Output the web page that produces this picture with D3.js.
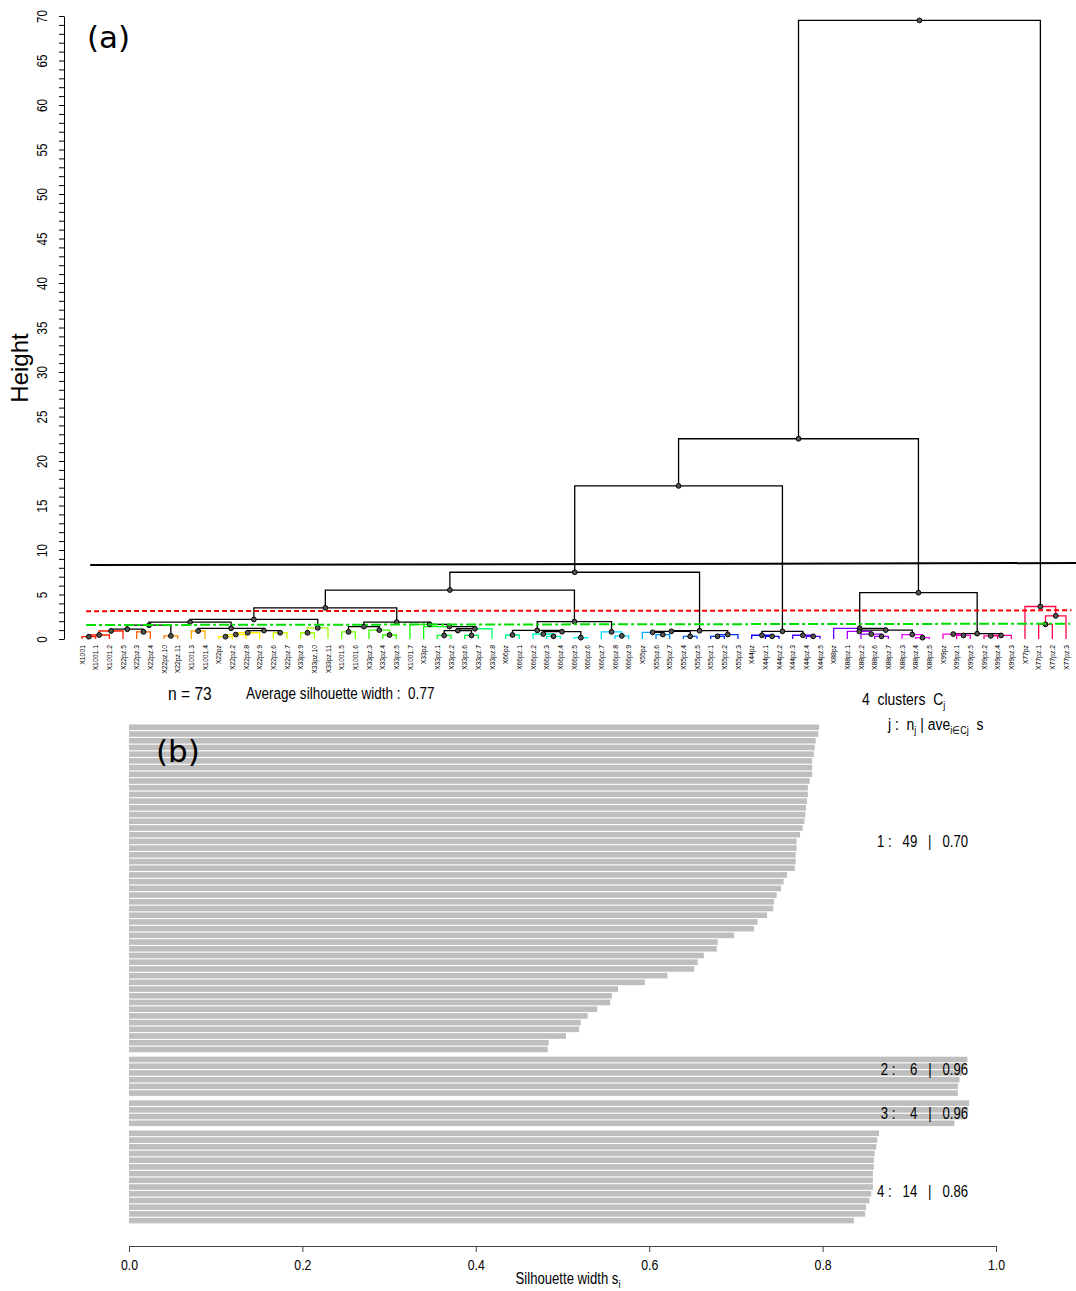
<html>
<script src='https://d3js.org/d3.v7.min.js'></script>
<style>
body {margin:0; background:#fff;}
text {font-family: 'Liberation Sans', Arial, sans-serif; fill:#000;}
.pl {font-family: 'DejaVu Sans', sans-serif;}
</style>
<body onload='init()'>
<svg width=1076 height=1291></svg>
<script>
// leaf labels in dendrogram order
const leafLabels = ["X1001","X1001.1","X1001.2","X22pz.5","X22pz.3","X22pz.4","X22pz.10","X22pz.11","X1001.3","X1001.4",
  "X22pz","X22pz.2","X22pz.8","X22pz.9","X22pz.6","X22pz.7","X33pz.9","X33pz.10","X33pz.11","X1001.5",
  "X1001.6","X33pz.3","X33pz.4","X33pz.5","X1001.7","X33pz","X33pz.1","X33pz.2","X33pz.6","X33pz.7",
  "X33pz.8","X66pz","X66pz.1","X66pz.2","X66pz.3","X66pz.4","X66pz.5","X66pz.6","X66pz.7","X66pz.8",
  "X66pz.9","X55pz","X55pz.6","X55pz.7","X55pz.4","X55pz.5","X55pz.1","X55pz.2","X55pz.3","X44pz",
  "X44pz.1","X44pz.2","X44pz.3","X44pz.4","X44pz.5","X88pz","X88pz.1","X88pz.2","X88pz.6","X88pz.7",
  "X88pz.3","X88pz.4","X88pz.5","X99pz","X99pz.1","X99pz.5","X99pz.2","X99pz.4","X99pz.3","X77pz",
  "X77pz.1","X77pz.2","X77pz.3"];

// merge tree: [height, left, right], numbers are leaf indices
const treeLeft = [2.2,
  [1.9,
    [1.55, [1.1, [0.9, [0.45, [0.26, 0, 1], 2], 3], [0.8, 4, 5]], [0.35, 6, 7]],
    [1.2, [0.9, 8, 9], [0.95, [0.7, [0.5, [0.26, 10, 11], 12], 13], [0.7, 14, 15]]]],
  [1.25, [0.7, 16, 17], 18]];
const treeMid = [1.9,
  [1.4, [0.8, 19, 20], [1.0, 21, [0.45, 22, 23]]],
  [1.65, 24, [1.4, 25, [1.15, [0.95, [0.4, 26, 27], [0.4, 28, 29]], 30]]]];
const tree66 = [1.95,
  [0.97, [0.45, 31, 32], [0.82, [0.56, 33, [0.3, 34, 35]], [0.15, 36, 37]]],
  [0.8, 38, [0.35, 39, 40]]];
const tree55 = [0.93, [0.86, [0.75, 41, [0.5, 42, 43]], [0.3, 44, 45]], [0.5, [0.3, 46, 47], 48]];
const tree44 = [0.86, [0.42, 49, [0.3, 50, 51]], [0.42, 52, [0.3, 53, 54]]];
const tree88 = [1.2, 55, [1.0, [0.85, 56, [0.55, 57, [0.3, 58, 59]]], [0.5, 60, [0.15, 61, 62]]]];
const tree99 = [0.6, [0.55, 63, [0.4, 64, 65]], [0.4, [0.35, 66, 67], 68]];
const tree77 = [3.65, 69, [2.6, [1.65, 70, 71], 72]];
const tree = [69.5,
  [22.5,
    [17.2, [7.5, [5.5, [3.5, treeLeft, treeMid], tree66], tree55], tree44],
    [5.2, tree88, tree99]],
  tree77];

// colour groups (first, last leaf index)
const leafGroups = [[0,3],[4,5],[6,7],[8,9],[10,13],[14,15],[16,18],[19,20],[21,23],[24,24],[25,25],
  [26,27],[28,29],[30,30],[31,32],[33,35],[36,37],[38,40],[41,41],[42,43],[44,45],[46,48],
  [49,51],[52,54],[55,55],[56,59],[60,62],[63,65],[66,68],[69,72]];

// reference lines: height at left end, height at right end
const lineBlack = [8.31, 8.54];
const lineRed = [3.13, 3.22];
const lineGreen = [1.57, 1.72];

// silhouette widths per cluster
const sil1 = [0.796,0.795,0.792,0.791,0.790,0.788,0.788,0.788,0.785,0.783,0.783,0.782,0.781,0.780,0.779,0.777,
  0.774,0.770,0.770,0.769,0.769,0.768,0.759,0.755,0.752,0.747,0.744,0.743,0.736,0.725,0.721,0.698,0.679,0.678,
  0.663,0.656,0.652,0.621,0.595,0.564,0.557,0.555,0.540,0.529,0.521,0.519,0.504,0.484,0.483];
const sil2 = [0.967,0.965,0.961,0.958,0.956,0.956];
const sil3 = [0.969,0.968,0.964,0.952];
const sil4 = [0.865,0.863,0.862,0.860,0.859,0.859,0.858,0.858,0.858,0.856,0.854,0.850,0.849,0.836];
const clusterAvg = ["0.70","0.96","0.96","0.86"];
const nObs = 73;
const avgSil = "0.77";
const silTicks = [0, 0.2, 0.4, 0.6, 0.8, 1.0];

const NARROW = 0.82; // R text looks horizontally squeezed

function init() {
  const svg = d3.select("svg");

  function rtext(x, y, size) {
    return svg.append("text")
      .attr("transform", "translate(" + x + "," + y + ") scale(" + NARROW + ",1)")
      .attr("font-size", size).style("white-space", "pre");
  }

  // ---------- (a) dendrogram ----------
  const x = d3.scalePoint().domain(d3.range(leafLabels.length)).range([82, 1066]);
  const y = d3.scaleLinear().domain([0, 70]).range([639, 16]);

  const groupOf = [];
  leafGroups.forEach((g, i) => { for (let k = g[0]; k <= g[1]; k++) groupOf[k] = i; });
  const groupColor = leafGroups.map(g => d3.hsl(350 * (g[0] + g[1]) / 2 / 72, 1, 0.5).formatHex());

  function build(n) {
    if (typeof n === "number") return {x: x(n), h: 0, group: groupOf[n], leaf: true};
    const l = build(n[1]), r = build(n[2]);
    const g = (l.group !== null && l.group === r.group) ? l.group : null;
    return {x: (l.x + r.x) / 2, h: n[0], group: g, children: [l, r]};
  }
  const root = build(tree);

  const edges = [], nodes = [];
  (function walk(p) {
    if (!p.children) return;
    nodes.push(p);
    p.children.forEach(c => {
      let col = "#000";
      if (c.leaf) col = groupColor[c.group];
      else if (p.group !== null) col = groupColor[p.group];
      edges.push({p: p, c: c, col: col});
      walk(c);
    });
  })(root);

  // black edges first, coloured on top
  edges.sort((a, b) => (a.col === "#000" ? 0 : 1) - (b.col === "#000" ? 0 : 1));
  svg.append("g").selectAll("path").data(edges).enter()
    .append("path")
    .attr("d", e => "M" + e.c.x + "," + y(e.c.h) + "V" + y(e.p.h) + "H" + e.p.x)
    .attr("fill", "none")
    .attr("stroke", e => e.col)
    .attr("stroke-width", 1.3);

  svg.append("g").selectAll("circle").data(nodes).enter()
    .append("circle")
    .attr("cx", d => d.x).attr("cy", d => y(d.h)).attr("r", 2.4)
    .attr("fill", "#555").attr("stroke", "#000").attr("stroke-width", 1);

  // reference lines
  const lx = d3.scaleLinear().domain([0, 72]).range([82, 1066]);
  const refLines = [
    {h: lineGreen, i0: 0.3, i1: 72.3, col: "#00e000", dash: "10,3,3,3"},
    {h: lineRed, i0: 0.3, i1: 72.4, col: "#ff0000", dash: "5,3"},
    {h: lineBlack, i0: 0.6, i1: 73, col: "#000", dash: null}
  ];
  svg.append("g").selectAll("line").data(refLines).enter()
    .append("line")
    .attr("x1", d => lx(d.i0)).attr("x2", d => lx(d.i1))
    .attr("y1", d => y(d.h[0])).attr("y2", d => y(d.h[1]))
    .attr("stroke", d => d.col).attr("stroke-width", 2)
    .attr("stroke-dasharray", d => d.dash);

  // leaf labels
  svg.append("g").selectAll("text").data(leafLabels).enter()
    .append("text")
    .attr("transform", (d, i) => "translate(" + (x(i) + 2.5) + ",645) rotate(-90) scale(0.9,1)")
    .attr("text-anchor", "end")
    .attr("font-size", 7.6)
    .text(d => d);

  // y axis
  const ya = svg.append("g").attr("transform", "translate(64,0)")
    .call(d3.axisLeft(y).tickValues(d3.range(0, 71, 1)).tickSize(5).tickSizeOuter(0)
      .tickFormat(d => d % 5 === 0 ? d : ""));
  ya.select(".domain").attr("stroke", "#000");
  ya.selectAll(".tick line").attr("stroke", "#000");
  ya.selectAll(".tick text")
    .attr("x", null).attr("dy", null)
    .attr("transform", "translate(-17,0) rotate(-90) scale(" + NARROW + ",1)")
    .attr("text-anchor", "middle")
    .attr("font-size", 14).attr("font-family", null);

  svg.append("text").attr("transform", "translate(28,368) rotate(-90)")
    .attr("text-anchor", "middle").attr("font-size", 24)
    .text("Height");

  svg.append("text").attr("class", "pl").attr("x", 87).attr("y", 48)
    .attr("font-size", 31).text("(a)");

  // ---------- (b) silhouette ----------
  const clusters = [sil1, sil2, sil3, sil4];
  const rows = [];
  let off = 0;
  clusters.forEach(c => {
    c.forEach((v, i) => rows.push({v: v, r: off + i}));
    off += c.length + 0.5;
  });
  const totalRows = off - 0.5;
  const sx = d3.scaleLinear().domain([0, 1]).range([129, 996]);
  const sy = d3.scaleLinear().domain([0, totalRows]).range([724, 1224]);
  const pitch = sy(1) - sy(0);

  svg.append("g").selectAll("rect").data(rows).enter()
    .append("rect")
    .attr("x", sx(0)).attr("y", d => sy(d.r) + 0.5)
    .attr("width", d => sx(d.v) - sx(0))
    .attr("height", pitch - 1.1)
    .attr("fill", "#bebebe");

  const labelRows = [17.6, 51.6, 58.1, 69.7];
  clusters.forEach((d, i) => {
    rtext(968, sy(labelRows[i]) + 5, 16).attr("text-anchor", "end")
      .text((i + 1) + " :   " + (d.length < 10 ? " " : "") + d.length + "   |   " + clusterAvg[i]);
  });

  const xa = svg.append("g").attr("transform", "translate(0,1246)")
    .call(d3.axisBottom(sx).tickValues(silTicks).tickSize(6).tickPadding(7).tickSizeOuter(0)
      .tickFormat(d3.format(".1f")));
  xa.select(".domain").attr("stroke", "#444");
  xa.selectAll(".tick line").attr("stroke", "#444");
  xa.selectAll(".tick text").attr("font-size", 15).attr("font-family", null)
    .attr("transform", "scale(" + NARROW + ",1)");

  const t1 = rtext(568, 1284, 16).attr("text-anchor", "middle");
  t1.append("tspan").text("Silhouette width s");
  t1.append("tspan").attr("font-size", 11).attr("dy", 4).text("i");

  rtext(168, 700, 19).text("n = " + nObs);
  rtext(246, 699, 16.5).text("Average silhouette width :  " + avgSil);

  const t2 = rtext(862, 705, 17);
  t2.append("tspan").text(clusters.length + "  clusters  C");
  t2.append("tspan").attr("font-size", 11).attr("dy", 4).text("j");

  const t3 = rtext(888, 730, 17);
  t3.append("tspan").text("j :  n");
  t3.append("tspan").attr("font-size", 11).attr("dy", 4).text("j");
  t3.append("tspan").attr("dy", -4).text(" | ave");
  t3.append("tspan").attr("font-size", 11).attr("dy", 4).text("i\u2208Cj");
  t3.append("tspan").attr("dy", -4).text("  s");

  svg.append("text").attr("class", "pl").attr("x", 156).attr("y", 762)
    .attr("font-size", 31).text("(b)");
}
</script>
</body>
</html>
